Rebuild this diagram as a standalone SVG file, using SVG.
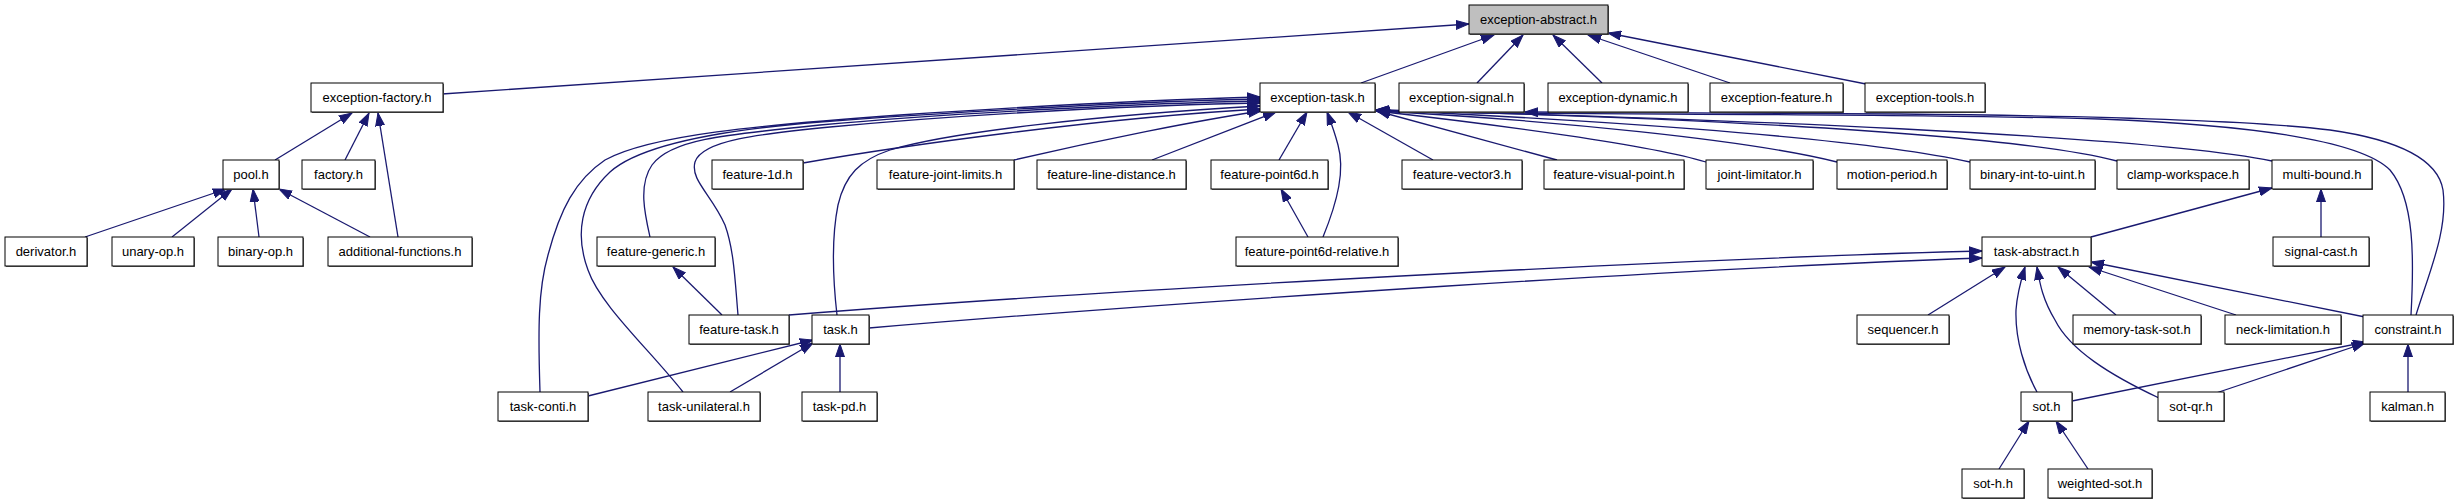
<svg xmlns="http://www.w3.org/2000/svg" width="2457" height="504" viewBox="0 0 2457 504">
<style>
.n rect.b{fill:#fff;stroke:#000;stroke-width:1}
.n rect.s{fill:#666}
.n text{font-family:"Liberation Sans",Arial,sans-serif;font-size:13px;fill:#000;text-anchor:middle}
.e path{fill:none;stroke:#191970;stroke-width:1.3;marker-end:url(#a)}
</style>
<defs>
<marker id="a" markerWidth="14" markerHeight="10" refX="13" refY="5" orient="auto" markerUnits="userSpaceOnUse"><path d="M0,0.5 L13,5 L0,9.5 z" fill="#191970" stroke="#191970" stroke-width="1"/></marker>
</defs>
<rect width="2457" height="504" fill="#fff"/>
<g class="e" id="edges">
<path d="M442,94 L1469,24"/>
<path d="M1361,83 L1494,35"/>
<path d="M1477,83 L1523,35"/>
<path d="M1602,83 L1553,35"/>
<path d="M1730,83 L1588,35"/>
<path d="M1866,84 L1608,33"/>
<path d="M275,160 L352,113"/>
<path d="M345,160 L369,113"/>
<path d="M398,237 L378,113"/>
<path d="M85,237 L226,189"/>
<path d="M172,237 L232,189"/>
<path d="M259,237 L253,189"/>
<path d="M370,237 L279,189"/>
<path d="M540,392 C538,330 538,290 548,255 C560,210 575,180 605,160 C650,135 760,125 900,115 C1050,105 1180,99 1260,97"/>
<path d="M683,392 C650,350 600,305 588,270 C575,235 580,200 610,172 C640,145 720,130 820,122 C950,112 1150,101 1260,99"/>
<path d="M650,237 C645,215 638,185 652,165 C670,140 720,135 820,125 C950,113 1150,103 1260,101"/>
<path d="M738,315 C735,280 734,250 725,225 C712,195 690,180 695,162 C702,140 760,134 830,127 C980,113 1150,105 1260,103"/>
<path d="M837,315 C833,280 831,240 838,205 C845,175 860,160 890,150 C950,132 1100,115 1260,106"/>
<path d="M803,163 C900,146 1100,118 1260,109"/>
<path d="M1014,160 C1100,140 1200,120 1261,111"/>
<path d="M1152,160 L1276,112"/>
<path d="M1279,160 L1307,112"/>
<path d="M1323,237 C1338,200 1345,170 1338,145 C1334,130 1330,120 1327,112"/>
<path d="M1308,237 L1281,189"/>
<path d="M1433,160 L1348,112"/>
<path d="M1557,160 L1377,111"/>
<path d="M1706,162 C1650,145 1500,125 1376,111"/>
<path d="M1837,162 C1750,140 1550,120 1376,111"/>
<path d="M1970,162 C1850,135 1550,118 1376,110"/>
<path d="M2117,161 C2000,130 1600,115 1376,110"/>
<path d="M2272,161 C2150,135 1700,118 1376,110"/>
<path d="M2411,315 C2414,260 2415,200 2390,170 C2360,140 2250,125 2100,119 C1900,113 1500,115 1377,111"/>
<path d="M2416,315 C2430,270 2448,230 2443,190 C2438,160 2400,140 2330,130 C2250,120 2100,116 1900,114 C1750,113 1600,113 1525,112"/>
<path d="M2091,237 L2272,188"/>
<path d="M2321,237 L2321,189"/>
<path d="M789,315 C1100,290 1700,258 1982,251"/>
<path d="M869,328 C1200,300 1700,268 1982,258"/>
<path d="M1928,315 L2005,267"/>
<path d="M2037,392 C2025,370 2015,340 2016,310 C2017,295 2021,280 2025,267"/>
<path d="M2159,398 C2110,375 2070,350 2055,320 C2043,300 2040,285 2037,267"/>
<path d="M2116,315 L2058,267"/>
<path d="M2236,315 L2089,267"/>
<path d="M2365,317 L2091,262"/>
<path d="M2072,401 L2366,342"/>
<path d="M2213,394 L2365,343"/>
<path d="M2408,392 L2408,344"/>
<path d="M1999,469 L2029,421"/>
<path d="M2088,469 L2056,421"/>
<path d="M588,396 L813,340"/>
<path d="M730,392 L813,343"/>
<path d="M840,392 L840,344"/>
<path d="M722,315 L673,267"/>
</g>
<g class="n" id="n1"><rect class="s" x="1470" y="6" width="139" height="29"/><rect class="b" x="1469" y="5" width="139" height="29" style="fill:#bfbfbf"/><text x="1538.5" y="24">exception-abstract.h</text></g>
<g class="n" id="n2"><rect class="s" x="312" y="84" width="132" height="29"/><rect class="b" x="311" y="83" width="132" height="29"/><text x="377" y="102">exception-factory.h</text></g>
<g class="n" id="n3"><rect class="s" x="1261" y="84" width="115" height="29"/><rect class="b" x="1260" y="83" width="115" height="29"/><text x="1317.5" y="102">exception-task.h</text></g>
<g class="n" id="n4"><rect class="s" x="1400" y="84" width="125" height="29"/><rect class="b" x="1399" y="83" width="125" height="29"/><text x="1461.5" y="102">exception-signal.h</text></g>
<g class="n" id="n5"><rect class="s" x="1549" y="84" width="140" height="29"/><rect class="b" x="1548" y="83" width="140" height="29"/><text x="1618" y="102">exception-dynamic.h</text></g>
<g class="n" id="n6"><rect class="s" x="1711" y="84" width="133" height="29"/><rect class="b" x="1710" y="83" width="133" height="29"/><text x="1776.5" y="102">exception-feature.h</text></g>
<g class="n" id="n7"><rect class="s" x="1866" y="84" width="120" height="29"/><rect class="b" x="1865" y="83" width="120" height="29"/><text x="1925" y="102">exception-tools.h</text></g>
<g class="n" id="n8"><rect class="s" x="224" y="161" width="56" height="29"/><rect class="b" x="223" y="160" width="56" height="29"/><text x="251" y="179">pool.h</text></g>
<g class="n" id="n9"><rect class="s" x="303" y="161" width="73" height="29"/><rect class="b" x="302" y="160" width="73" height="29"/><text x="338.5" y="179">factory.h</text></g>
<g class="n" id="n10"><rect class="s" x="713" y="161" width="91" height="29"/><rect class="b" x="712" y="160" width="91" height="29"/><text x="757.5" y="179">feature-1d.h</text></g>
<g class="n" id="n11"><rect class="s" x="878" y="161" width="137" height="29"/><rect class="b" x="877" y="160" width="137" height="29"/><text x="945.5" y="179">feature-joint-limits.h</text></g>
<g class="n" id="n12"><rect class="s" x="1038" y="161" width="149" height="29"/><rect class="b" x="1037" y="160" width="149" height="29"/><text x="1111.5" y="179">feature-line-distance.h</text></g>
<g class="n" id="n13"><rect class="s" x="1212" y="161" width="117" height="29"/><rect class="b" x="1211" y="160" width="117" height="29"/><text x="1269.5" y="179">feature-point6d.h</text></g>
<g class="n" id="n14"><rect class="s" x="1403" y="161" width="120" height="29"/><rect class="b" x="1402" y="160" width="120" height="29"/><text x="1462" y="179">feature-vector3.h</text></g>
<g class="n" id="n15"><rect class="s" x="1545" y="161" width="140" height="29"/><rect class="b" x="1544" y="160" width="140" height="29"/><text x="1614" y="179">feature-visual-point.h</text></g>
<g class="n" id="n16"><rect class="s" x="1707" y="161" width="107" height="29"/><rect class="b" x="1706" y="160" width="107" height="29"/><text x="1759.5" y="179">joint-limitator.h</text></g>
<g class="n" id="n17"><rect class="s" x="1838" y="161" width="110" height="29"/><rect class="b" x="1837" y="160" width="110" height="29"/><text x="1892" y="179">motion-period.h</text></g>
<g class="n" id="n18"><rect class="s" x="1971" y="161" width="125" height="29"/><rect class="b" x="1970" y="160" width="125" height="29"/><text x="2032.5" y="179">binary-int-to-uint.h</text></g>
<g class="n" id="n19"><rect class="s" x="2118" y="161" width="132" height="29"/><rect class="b" x="2117" y="160" width="132" height="29"/><text x="2183" y="179">clamp-workspace.h</text></g>
<g class="n" id="n20"><rect class="s" x="2273" y="161" width="100" height="29"/><rect class="b" x="2272" y="160" width="100" height="29"/><text x="2322" y="179">multi-bound.h</text></g>
<g class="n" id="n21"><rect class="s" x="6" y="238" width="82" height="29"/><rect class="b" x="5" y="237" width="82" height="29"/><text x="46" y="256">derivator.h</text></g>
<g class="n" id="n22"><rect class="s" x="113" y="238" width="82" height="29"/><rect class="b" x="112" y="237" width="82" height="29"/><text x="153" y="256">unary-op.h</text></g>
<g class="n" id="n23"><rect class="s" x="219" y="238" width="85" height="29"/><rect class="b" x="218" y="237" width="85" height="29"/><text x="260.5" y="256">binary-op.h</text></g>
<g class="n" id="n24"><rect class="s" x="329" y="238" width="144" height="29"/><rect class="b" x="328" y="237" width="144" height="29"/><text x="400" y="256">additional-functions.h</text></g>
<g class="n" id="n25"><rect class="s" x="598" y="238" width="118" height="29"/><rect class="b" x="597" y="237" width="118" height="29"/><text x="656" y="256">feature-generic.h</text></g>
<g class="n" id="n26"><rect class="s" x="1237" y="238" width="162" height="29"/><rect class="b" x="1236" y="237" width="162" height="29"/><text x="1317" y="256">feature-point6d-relative.h</text></g>
<g class="n" id="n27"><rect class="s" x="1983" y="238" width="109" height="29"/><rect class="b" x="1982" y="237" width="109" height="29"/><text x="2036.5" y="256">task-abstract.h</text></g>
<g class="n" id="n28"><rect class="s" x="2274" y="238" width="96" height="29"/><rect class="b" x="2273" y="237" width="96" height="29"/><text x="2321" y="256">signal-cast.h</text></g>
<g class="n" id="n29"><rect class="s" x="690" y="316" width="100" height="29"/><rect class="b" x="689" y="315" width="100" height="29"/><text x="739" y="334">feature-task.h</text></g>
<g class="n" id="n30"><rect class="s" x="813" y="316" width="57" height="29"/><rect class="b" x="812" y="315" width="57" height="29"/><text x="840.5" y="334">task.h</text></g>
<g class="n" id="n31"><rect class="s" x="1858" y="316" width="92" height="29"/><rect class="b" x="1857" y="315" width="92" height="29"/><text x="1903" y="334">sequencer.h</text></g>
<g class="n" id="n32"><rect class="s" x="2074" y="316" width="128" height="29"/><rect class="b" x="2073" y="315" width="128" height="29"/><text x="2137" y="334">memory-task-sot.h</text></g>
<g class="n" id="n33"><rect class="s" x="2226" y="316" width="116" height="29"/><rect class="b" x="2225" y="315" width="116" height="29"/><text x="2283" y="334">neck-limitation.h</text></g>
<g class="n" id="n34"><rect class="s" x="2364" y="316" width="90" height="29"/><rect class="b" x="2363" y="315" width="90" height="29"/><text x="2408" y="334">constraint.h</text></g>
<g class="n" id="n35"><rect class="s" x="499" y="393" width="90" height="29"/><rect class="b" x="498" y="392" width="90" height="29"/><text x="543" y="411">task-conti.h</text></g>
<g class="n" id="n36"><rect class="s" x="649" y="393" width="112" height="29"/><rect class="b" x="648" y="392" width="112" height="29"/><text x="704" y="411">task-unilateral.h</text></g>
<g class="n" id="n37"><rect class="s" x="803" y="393" width="75" height="29"/><rect class="b" x="802" y="392" width="75" height="29"/><text x="839.5" y="411">task-pd.h</text></g>
<g class="n" id="n38"><rect class="s" x="2022" y="393" width="51" height="29"/><rect class="b" x="2021" y="392" width="51" height="29"/><text x="2046.5" y="411">sot.h</text></g>
<g class="n" id="n39"><rect class="s" x="2159" y="393" width="66" height="29"/><rect class="b" x="2158" y="392" width="66" height="29"/><text x="2191" y="411">sot-qr.h</text></g>
<g class="n" id="n40"><rect class="s" x="2371" y="393" width="75" height="29"/><rect class="b" x="2370" y="392" width="75" height="29"/><text x="2407.5" y="411">kalman.h</text></g>
<g class="n" id="n41"><rect class="s" x="1963" y="470" width="62" height="29"/><rect class="b" x="1962" y="469" width="62" height="29"/><text x="1993" y="488">sot-h.h</text></g>
<g class="n" id="n42"><rect class="s" x="2049" y="470" width="104" height="29"/><rect class="b" x="2048" y="469" width="104" height="29"/><text x="2100" y="488">weighted-sot.h</text></g>
</svg>
